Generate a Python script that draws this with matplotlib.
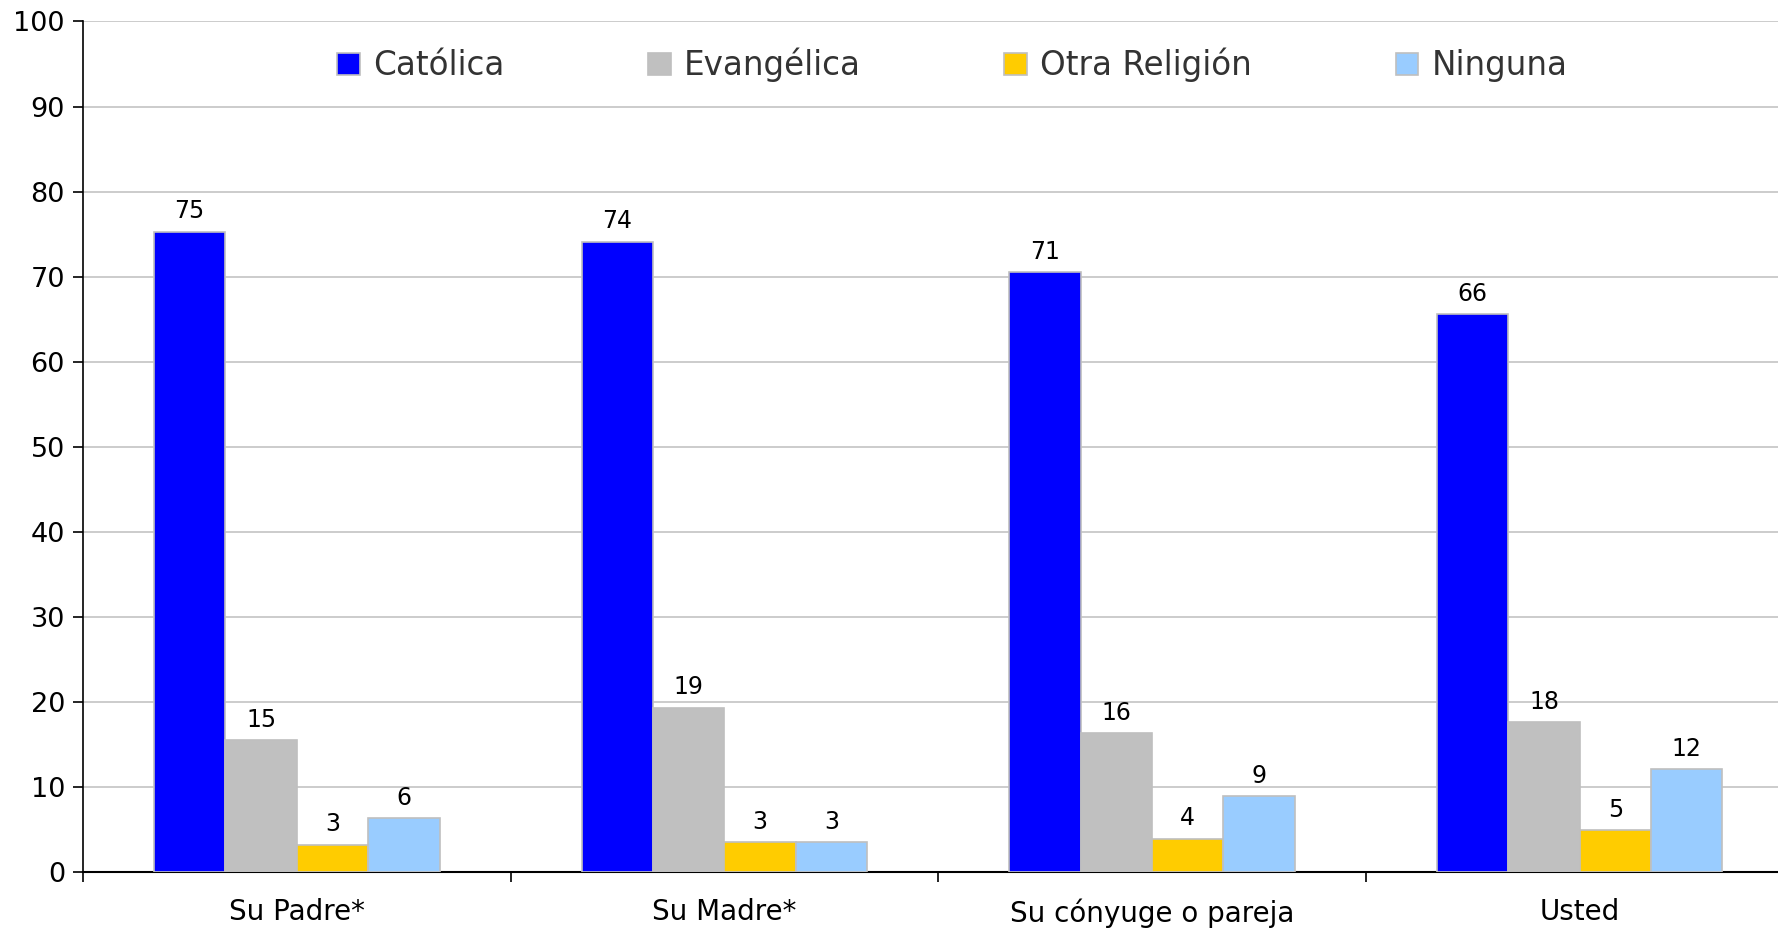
import numpy as np
import matplotlib.pyplot as plt

categories = ['Su Padre*', 'Su Madre*', 'Su cónyuge o pareja', 'Usted']
series = ['Católica', 'Evangélica', 'Otra Religión', 'Ninguna']
catolica = [75.3, 74.1, 70.5, 65.6]
evangelica = [15.5, 19.3, 16.3, 17.6]
otra = [3.2, 3.5, 3.9, 4.9]
ninguna = [6.3, 3.5, 8.9, 12.1]
etiquetas = [['75', '74', '71', '66'],
             ['15', '19', '16', '18'],
             ['3', '3', '4', '5'],
             ['6', '3', '9', '12']]
colores = ['#0000FF', '#C0C0C0', '#FFCC00', '#99CCFF']

valores = [catolica, evangelica, otra, ninguna]

fig = plt.figure(figsize=(17.78, 9.30), dpi=100)
ax = fig.add_axes([0.0467, 0.0624, 0.962, 0.9145])

x = np.arange(len(categories))
w = 0.167
for i, (vals, col, name) in enumerate(zip(valores, colores, series)):
    pos = x + (i - 1.5) * w
    bars = ax.bar(pos, vals, width=w, color=col, edgecolor='#BFBFBF', linewidth=1.2, label=name, zorder=3)
    for b, lab in zip(bars, etiquetas[i]):
        ax.annotate(lab, (b.get_x() + b.get_width() / 2, b.get_height()),
                    xytext=(0, 6), textcoords='offset points',
                    ha='center', va='bottom', fontsize=17, color='black')

ax.set_xlim(-0.5, 3.5)
ax.set_ylim(0, 100)
ax.set_yticks(range(0, 101, 10))
ax.set_xticks(x)
ax.set_xticklabels(categories)
ax.set_xticks(np.arange(-0.5, 4.0, 1.0), minor=True)
ax.tick_params(axis='x', which='major', length=0, pad=19, labelsize=20)
ax.tick_params(axis='x', which='minor', length=7, width=1.2, direction='out')
ax.tick_params(axis='y', length=7, width=1.2, pad=6, labelsize=19.5)
ax.yaxis.grid(True, color='#C8C8C8', linewidth=1.3, zorder=0)
ax.set_axisbelow(True)
for s in ['top', 'right']:
    ax.spines[s].set_visible(False)
ax.spines['left'].set_linewidth(1.2)
ax.spines['bottom'].set_linewidth(1.5)

fig.legend(loc='center', bbox_to_anchor=(0.5355, 0.930), ncol=4, frameon=False,
           fontsize=23.5, handlelength=0.7, handleheight=0.7, handletextpad=0.4,
           columnspacing=4.4, labelcolor='#333333')

fig.savefig('out.png', dpi=100)
